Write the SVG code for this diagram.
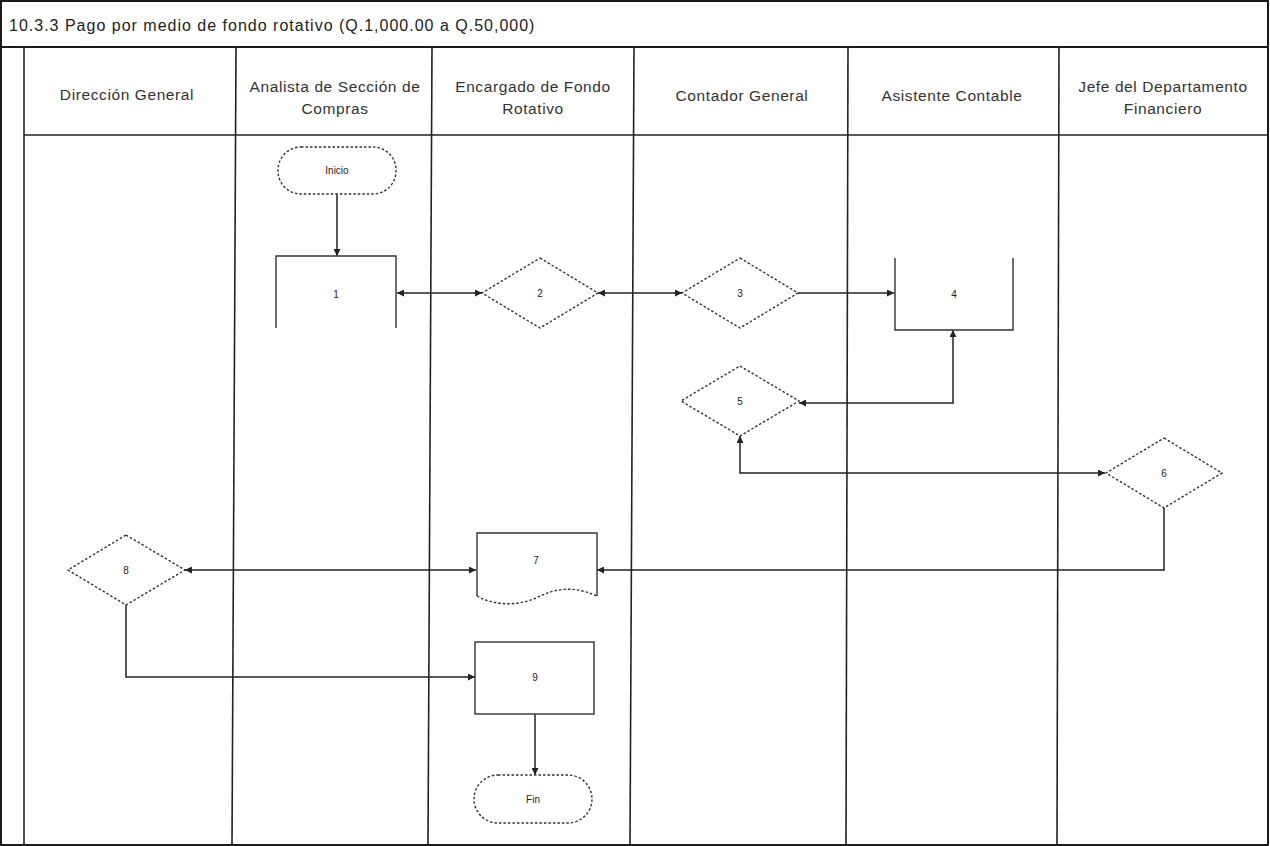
<svg xmlns="http://www.w3.org/2000/svg" width="1270" height="846" viewBox="0 0 1270 846">
<style>
.frame{fill:none;stroke:#1a1a1a;stroke-width:2}
.lane{fill:none;stroke:#222;stroke-width:1.6}
.hdr{font-family:"Liberation Sans",Arial,sans-serif;font-size:15.5px;letter-spacing:0.6px;fill:#333;text-anchor:middle}
.title{font-family:"Liberation Sans",Arial,sans-serif;font-size:16px;letter-spacing:1px;fill:#222}
.lbl{font-family:"Liberation Sans",Arial,sans-serif;font-size:10px;fill:#222;text-anchor:middle;dominant-baseline:middle}
.dash{fill:#fff;stroke:#333;stroke-width:1.4;stroke-dasharray:2.5,2}
.dashline{fill:none;stroke:#333;stroke-width:1.4;stroke-dasharray:2.5,2}
.solid{fill:#fff;stroke:#333;stroke-width:1.4}
.open{fill:none;stroke:#333;stroke-width:1.4}
.conn{fill:none;stroke:#222;stroke-width:1.5}
</style>
<defs>
<marker id="ah" viewBox="0 0 10 10" refX="10" refY="5" markerWidth="7" markerHeight="7" markerUnits="userSpaceOnUse" orient="auto-start-reverse">
<path d="M0,0 L10,5 L0,10 z" fill="#222"/>
</marker>
</defs>
<rect width="1270" height="846" fill="#fff"/>
<g id="frame">
<rect class="frame" x="1" y="1" width="1267" height="844"/>
<line class="frame" x1="1" y1="47" x2="1268" y2="47"/>
<line class="lane" x1="24" y1="135" x2="1268" y2="135"/>
<line class="lane" x1="24" y1="47" x2="24" y2="845"/>
<line class="lane" x1="236" y1="47" x2="232" y2="845"/>
<line class="lane" x1="432" y1="47" x2="428" y2="845"/>
<line class="lane" x1="634" y1="47" x2="630" y2="845"/>
<line class="lane" x1="848" y1="47" x2="846" y2="845"/>
<line class="lane" x1="1059" y1="47" x2="1057" y2="845"/>
<text class="title" x="9" y="31">10.3.3 Pago por medio de fondo rotativo (Q.1,000.00 a Q.50,000)</text>
<text class="hdr" x="127" y="100">Dirección General</text>
<text class="hdr" x="335" y="92">Analista de Sección de</text>
<text class="hdr" x="335" y="114">Compras</text>
<text class="hdr" x="533" y="92">Encargado de Fondo</text>
<text class="hdr" x="533" y="114">Rotativo</text>
<text class="hdr" x="742" y="101">Contador General</text>
<text class="hdr" x="952" y="101">Asistente Contable</text>
<text class="hdr" x="1163" y="92">Jefe del Departamento</text>
<text class="hdr" x="1163" y="114">Financiero</text>
</g>
<g id="connectors">
<path class="conn" d="M337,194 L337,256" marker-end="url(#ah)"/>
<path class="conn" d="M397,293 L482,293" marker-start="url(#ah)" marker-end="url(#ah)"/>
<path class="conn" d="M598,293 L682,293" marker-start="url(#ah)" marker-end="url(#ah)"/>
<path class="conn" d="M798,293 L894,293" marker-end="url(#ah)"/>
<path class="conn" d="M799,403 L953,403 L953,330" marker-start="url(#ah)" marker-end="url(#ah)"/>
<path class="conn" d="M740,436 L740,473 L1105,473" marker-start="url(#ah)" marker-end="url(#ah)"/>
<path class="conn" d="M1164,508 L1164,570 L597,570" marker-end="url(#ah)"/>
<path class="conn" d="M185,570 L476,570" marker-start="url(#ah)" marker-end="url(#ah)"/>
<path class="conn" d="M126,604 L126,677 L475,677" marker-end="url(#ah)"/>
<path class="conn" d="M535,714 L535,775" marker-end="url(#ah)"/>
</g>
<g id="n-inicio">
<rect class="dash" x="278" y="147" width="118" height="47" rx="23"/>
<text class="lbl" x="337" y="171">Inicio</text>
</g>
<g id="n1">
<path class="open" d="M276,328 L276,256 L396,256 L396,328"/>
<text class="lbl" x="336" y="295">1</text>
</g>
<g id="n2">
<polygon class="dash" points="540,258 598,293 540,328 482,293"/>
<text class="lbl" x="540" y="294">2</text>
</g>
<g id="n3">
<polygon class="dash" points="740,258 798,293 740,328 682,293"/>
<text class="lbl" x="740" y="294">3</text>
</g>
<g id="n4">
<path class="open" d="M895,258 L895,330 L1013,330 L1013,258"/>
<text class="lbl" x="954" y="295">4</text>
</g>
<g id="n5">
<polygon class="dash" points="740,366 799,401 740,436 681,401"/>
<text class="lbl" x="740" y="402">5</text>
</g>
<g id="n6">
<polygon class="dash" points="1164,438 1222,473 1164,508 1106,473"/>
<text class="lbl" x="1164" y="474">6</text>
</g>
<g id="n7">
<path d="M477,596 C495,606 518,606 536,598 C552,590 570,584 597,596 L597,533 L477,533 Z" fill="#fff"/>
<path class="open" d="M477,596 L477,533 L597,533 L597,596"/>
<path class="dashline" d="M477,596 C495,606 518,606 536,598 C552,590 570,584 597,596"/>
<text class="lbl" x="536" y="561">7</text>
</g>
<g id="n8">
<polygon class="dash" points="126,535 185,570 126,605 68,570"/>
<text class="lbl" x="126" y="571">8</text>
</g>
<g id="n9">
<rect class="solid" x="475" y="642" width="119" height="72"/>
<text class="lbl" x="535" y="678">9</text>
</g>
<g id="n-fin">
<rect class="dash" x="474" y="775" width="118" height="48" rx="24"/>
<text class="lbl" x="533" y="800">Fin</text>
</g>
</svg>
